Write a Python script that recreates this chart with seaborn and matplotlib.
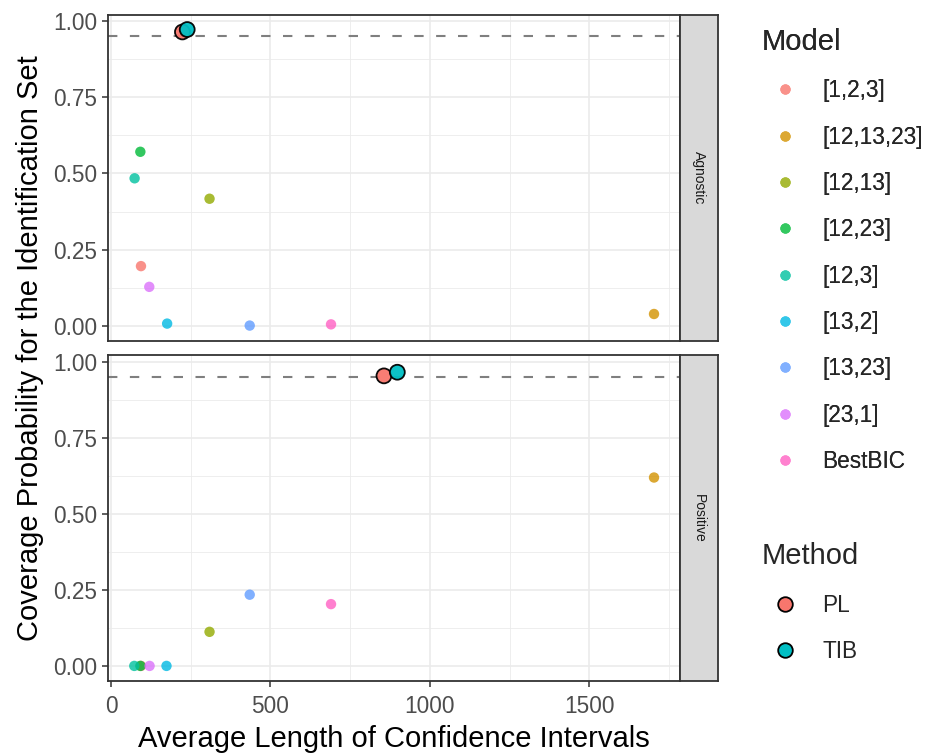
import numpy as np
import pandas as pd
import matplotlib
matplotlib.use("Agg")
import matplotlib.pyplot as plt
from matplotlib.lines import Line2D
from matplotlib.colors import to_rgb
import seaborn as sns

# ---------------- data ----------------
models = ["[1,2,3]", "[12,13,23]", "[12,13]", "[12,23]", "[12,3]",
          "[13,2]", "[13,23]", "[23,1]", "BestBIC"]
agnostic_len = [94, 1703, 309, 92, 74, 176, 435, 120, 690]
agnostic_cov = [0.196, 0.039, 0.417, 0.571, 0.484, 0.0075, 0.001, 0.128, 0.005]
positive_len = [94, 1703, 309, 92, 73, 174, 435, 121, 690]
positive_cov = [0.0, 0.619, 0.112, 0.0, 0.0, 0.0, 0.234, 0.0, 0.203]

methods = ["PL", "TIB"]
agnostic_m_len = [224, 239]
agnostic_m_cov = [0.964, 0.972]
positive_m_len = [856, 898]
positive_m_cov = [0.953, 0.965]

panels = ["Agnostic", "Positive"]
target = 0.95
x_ticks = [0, 500, 1000, 1500]
y_ticks = [0.0, 0.25, 0.5, 0.75, 1.0]
y_tick_labels = ["0.00", "0.25", "0.50", "0.75", "1.00"]

model_colors = ["#F8766D", "#D39200", "#93AA00", "#00BA38", "#00C19F",
                "#00B9E3", "#619CFF", "#DB72FB", "#FF61C3"]
method_colors = ["#F8766D", "#00BFC4"]

df_models = pd.concat([
    pd.DataFrame({"Model": models, "len": agnostic_len, "cov": agnostic_cov, "panel": "Agnostic"}),
    pd.DataFrame({"Model": models, "len": positive_len, "cov": positive_cov, "panel": "Positive"}),
])
df_methods = pd.concat([
    pd.DataFrame({"Method": methods, "len": agnostic_m_len, "cov": agnostic_m_cov, "panel": "Agnostic"}),
    pd.DataFrame({"Method": methods, "len": positive_m_len, "cov": positive_m_cov, "panel": "Positive"}),
])

# ---------------- style ----------------
sns.set_theme(style="white")
plt.rcParams["font.family"] = ["Liberation Sans", "DejaVu Sans"]

W, H = 933, 754
fig = plt.figure(figsize=(W / 100, H / 100), dpi=100)

def fx(px):
    return px / W

def fy(py):
    return 1 - py / H

def soften(c, a=0.8):
    r, g, b = to_rgb(c)
    return (a * r + (1 - a), a * g + (1 - a), a * b + (1 - a))

left_px, right_px = 108.3, 680.0
panel_px = [(14.7, 340.7), (355.3, 680.7)]
strip_w = 38.0

# shared scales with 5% expansion
all_x = np.concatenate([df_models["len"], df_methods["len"]])
all_y = np.concatenate([df_models["cov"], df_methods["cov"]])
xr = all_x.max() - all_x.min()
yr = all_y.max() - all_y.min()
xlim = (all_x.min() - 0.05 * xr, all_x.max() + 0.05 * xr)
ylim = (all_y.min() - 0.05 * yr, all_y.max() + 0.05 * yr)

border = "#333333"
tick_color = "#4D4D4D"

for i, panel in enumerate(panels):
    top, bot = panel_px[i]
    ax = fig.add_axes([fx(left_px), fy(bot), fx(right_px - left_px), (bot - top) / H])
    ax.set_facecolor("white")
    ax.set_xlim(*xlim)
    ax.set_ylim(*ylim)
    # grid
    for v in [250, 750, 1250, 1750]:
        ax.axvline(v, color="#EBEBEB", lw=0.6, zorder=0)
    for v in [0.125, 0.375, 0.625, 0.875]:
        ax.axhline(v, color="#EBEBEB", lw=0.6, zorder=0)
    for v in x_ticks:
        ax.axvline(v, color="#EBEBEB", lw=1.2, zorder=0)
    for v in y_ticks:
        ax.axhline(v, color="#EBEBEB", lw=1.2, zorder=0)

    ax.axhline(target, color="#7F7F7F", lw=1.5, ls=(0, (4.5, 6)), zorder=1)

    dm = df_models[df_models["panel"] == panel]
    sns.scatterplot(data=dm, x="len", y="cov", hue="Model", hue_order=models,
                    palette=model_colors, s=56, alpha=0.8, linewidth=0,
                    legend=False, ax=ax, zorder=3)
    dme = df_methods[df_methods["panel"] == panel]
    sns.scatterplot(data=dme, x="len", y="cov", hue="Method", hue_order=methods,
                    palette=method_colors, s=115, alpha=0.95, edgecolor="black",
                    linewidth=1.3, legend=False, ax=ax, zorder=4)

    ax.set_xlabel("")
    ax.set_ylabel("")
    ax.set_yticks(y_ticks)
    ax.set_yticklabels(y_tick_labels)
    ax.set_xticks(x_ticks)
    ax.tick_params(axis="both", bottom=True, left=True, length=4.5, width=1.1,
                   color=border, labelcolor=tick_color, labelsize=16.3)
    ax.tick_params(axis="y", pad=3.5)
    ax.tick_params(axis="x", pad=6)
    if i == 0:
        ax.tick_params(axis="x", bottom=False, labelbottom=False)
    for sp in ax.spines.values():
        sp.set_color(border)
        sp.set_linewidth(1.3)
        sp.set_zorder(5)

    # strip
    sax = fig.add_axes([fx(right_px), fy(bot), fx(strip_w), (bot - top) / H])
    sax.set_facecolor("#D9D9D9")
    sax.set_xticks([])
    sax.set_yticks([])
    for sp in sax.spines.values():
        sp.set_color(border)
        sp.set_linewidth(1.3)
    sax.text(0.5, 0.5, panel, rotation=-90, ha="center", va="center",
             fontsize=10, color="#1A1A1A", transform=sax.transAxes)

fig.text(fx((left_px + right_px) / 2), fy(739), "Average Length of Confidence Intervals",
         ha="center", va="center", fontsize=21, color="black")
fig.text(fx(30), fy((panel_px[0][0] + panel_px[1][1]) / 2),
         "Coverage Probability for the Identification Set",
         ha="center", va="center", rotation=90, fontsize=21, color="black")

# legends
model_handles = [Line2D([0], [0], marker="o", ls="", markersize=7.4,
                        markerfacecolor=soften(c), markeredgewidth=0, label=m)
                 for m, c in zip(models, model_colors)]
method_handles = [Line2D([0], [0], marker="o", ls="", markersize=10.5,
                         markerfacecolor=c, markeredgecolor="black",
                         markeredgewidth=1.3, label=m)
                  for m, c in zip(methods, method_colors)]

leg_kw = dict(loc="upper left", frameon=False, fontsize=16.3, title_fontsize=21,
              labelspacing=1.03, handlelength=2.0, handletextpad=0.66,
              borderpad=0, borderaxespad=0, alignment="left")
leg1 = fig.legend(handles=model_handles, title="Model",
                  bbox_to_anchor=(fx(762), fy(28)), **leg_kw)
leg2 = fig.legend(handles=method_handles, title="Method",
                  bbox_to_anchor=(fx(762), fy(542.5)), **leg_kw)
fig.add_artist(leg1)

fig.savefig("out.png", dpi=100)
